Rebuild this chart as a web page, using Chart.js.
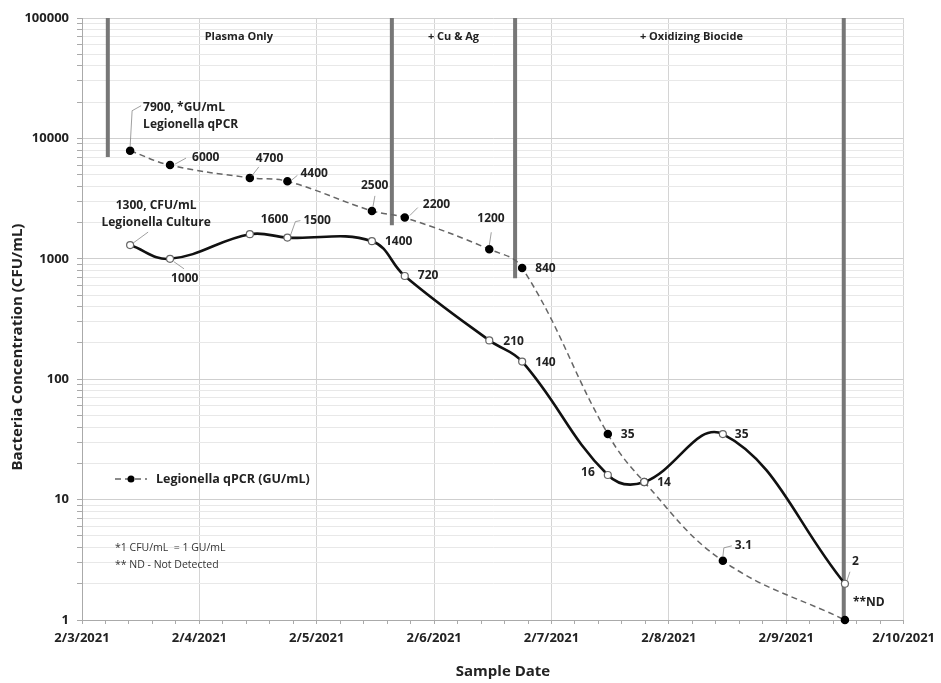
<!DOCTYPE html>
<html>
<head>
<meta charset="utf-8">
<script src="https://cdn.jsdelivr.net/npm/chart.js@4.4.0/dist/chart.umd.min.js"></script>
<style>
    html, body { margin: 0; padding: 0; background: #fff; }
    #wrap { width: 941px; height: 683px; }
</style>
</head>
<body>
<div id="wrap"><canvas id="chart" width="941" height="683"></canvas></div>
<script>
// Jours d'échantillonnage (en jours après le 2/3/2021)
const sampleDays = [0.41, 0.75, 1.43, 1.75, 2.47, 2.75, 3.47, 3.75, 4.48, 4.79, 5.46, 6.5];

// Legionella qPCR (GU/mL) - ND tracé à 1
const qpcrValues = [7900, 6000, 4700, 4400, 2500, 2200, 1200, 840, 35, 14, 3.1, 1];
const qpcrLabels = ['7900, *GU/mL|Legionella qPCR', '6000', '4700', '4400', '2500', '2200', '1200', '840', '35', '', '3.1', '**ND'];

// Legionella Culture (CFU/mL)
const cultureValues = [1300, 1000, 1600, 1500, 1400, 720, 210, 140, 16, 14, 35, 2];
const cultureLabels = ['1300, CFU/mL|Legionella Culture', '1000', '1600', '1500', '1400', '720', '210', '140', '16', '14', '35', '2'];

// Barres de changement de traitement
const phaseDays = [0.22, 2.64, 3.69, 6.49];
const phaseBottoms = [7000, 1900, 690, 1];
const phaseNames = ['Plasma Only', '+ Cu & Ag', '+ Oxidizing Biocide'];

// Axes
const xTickLabels = ['2/3/2021', '2/4/2021', '2/5/2021', '2/6/2021', '2/7/2021', '2/8/2021', '2/9/2021', '2/10/2021'];
const yMajorTicks = [1, 10, 100, 1000, 10000, 100000];

const FONT = '"Open Sans", "Liberation Sans", sans-serif';

// Position des étiquettes (pixels, relatif au point)
const qpcrLabelStyle = [
    { dx: 13, dy: -43, align: 'left', leader: [[0, -4], [2, -40], [11, -45]] },
    { dx: 22, dy: -8, align: 'left', leader: [[5, -1], [16, -7]] },
    { dx: 6, dy: -19, align: 'left', leader: [[2, -2], [9, -11]] },
    { dx: 13, dy: -8, align: 'left', leader: [[4, -1], [10, -6]] },
    { dx: -11, dy: -25, align: 'left', leader: [[1, -4], [3, -15]] },
    { dx: 18, dy: -13, align: 'left', leader: [[5, -2], [13, -10]] },
    { dx: -12, dy: -31, align: 'left', leader: [[0, -4], [2, -17]] },
    { dx: 13, dy: 1, align: 'left' },
    { dx: 13, dy: 0, align: 'left' },
    null,
    { dx: 12, dy: -15, align: 'left', leader: [[0, -4], [1, -13], [9, -15]] },
    { dx: 8, dy: -17, align: 'left' }
];
const cultureLabelStyle = [
    { dx: 26, dy: -40, align: 'center', leader: [[3, -2], [18, -13]] },
    { dx: 1, dy: 20, align: 'left', leader: [[4, 3], [14, 10]] },
    { dx: 11, dy: -15, align: 'left' },
    { dx: 16, dy: -17, align: 'left', leader: [[3, -2], [8, -16], [13, -17]] },
    { dx: 13, dy: 0, align: 'left' },
    { dx: 13, dy: 0, align: 'left' },
    { dx: 14, dy: 1, align: 'left' },
    { dx: 13, dy: 1, align: 'left' },
    { dx: -13, dy: -2, align: 'right' },
    { dx: 13, dy: 1, align: 'left' },
    { dx: 12, dy: 0, align: 'left' },
    { dx: 7, dy: -22, align: 'left', leader: [[2, -3], [5, -12]] }
];

function isDecade(v) {
    const l = Math.log10(v);
    return Math.abs(l - Math.round(l)) < 1e-9;
}

function isWholeDay(v) {
    return Math.abs(v - Math.round(v)) < 1e-6;
}

const points = (values) => sampleDays.map((d, i) => ({ x: d, y: values[i] }));

const datasets = [
    {
        label: 'Legionella Culture (CFU/mL)',
        data: points(cultureValues),
        borderColor: '#111',
        borderWidth: 2.6,
        tension: 0.4,
        pointRadius: 3.5,
        pointBackgroundColor: '#fff',
        pointBorderColor: '#666',
        pointBorderWidth: 1.2,
        clip: false
    },
    {
        label: 'Legionella qPCR (GU/mL)',
        data: points(qpcrValues),
        borderColor: '#666',
        borderWidth: 1.5,
        borderDash: [6, 4],
        tension: 0.4,
        pointRadius: 3.5,
        pointBackgroundColor: '#000',
        pointBorderColor: '#000',
        clip: false
    }
];

phaseDays.forEach((d, i) => {
    datasets.push({
        label: 'phase' + i,
        data: [{ x: d, y: 100000 }, { x: d, y: phaseBottoms[i] }],
        borderColor: '#777',
        borderWidth: 4,
        pointRadius: 0,
        clip: false
    });
});

// Plugin de dessin des étiquettes, titres et légende
const annotate = {
    id: 'annotate',
    afterDatasetsDraw(chart) {
        const ctx = chart.ctx;
        const xs = chart.scales.x;
        const ys = chart.scales.y;
        ctx.save();

        function drawLabels(values, labels, styles) {
            values.forEach((v, i) => {
                const st = styles[i];
                if (!st || !labels[i]) return;
                const px = xs.getPixelForValue(sampleDays[i]);
                const py = ys.getPixelForValue(v);
                if (st.leader) {
                    ctx.strokeStyle = '#888';
                    ctx.lineWidth = 0.8;
                    ctx.setLineDash([]);
                    ctx.beginPath();
                    st.leader.forEach((p, k) => {
                        if (k === 0) ctx.moveTo(px + p[0], py + p[1]);
                        else ctx.lineTo(px + p[0], py + p[1]);
                    });
                    ctx.stroke();
                }
                ctx.fillStyle = '#222';
                ctx.font = 'bold 12px ' + FONT;
                ctx.textAlign = st.align;
                ctx.textBaseline = 'middle';
                labels[i].split('|').forEach((line, k) => {
                    ctx.fillText(line, px + st.dx, py + st.dy + k * 17);
                });
            });
        }

        drawLabels(qpcrValues, qpcrLabels, qpcrLabelStyle);
        drawLabels(cultureValues, cultureLabels, cultureLabelStyle);

        // Noms des phases
        const phaseShift = [-11, 0, 12];
        ctx.fillStyle = '#222';
        ctx.font = 'bold 11px ' + FONT;
        ctx.textAlign = 'center';
        ctx.textBaseline = 'middle';
        phaseNames.forEach((name, i) => {
            const mid = (xs.getPixelForValue(phaseDays[i]) + xs.getPixelForValue(phaseDays[i + 1])) / 2;
            ctx.fillText(name, mid + phaseShift[i], chart.chartArea.top + 19);
        });

        // Légende
        const lx = 115, ly = 479;
        ctx.strokeStyle = '#666';
        ctx.lineWidth = 1.5;
        ctx.setLineDash([6, 4]);
        ctx.beginPath();
        ctx.moveTo(lx, ly);
        ctx.lineTo(lx + 32, ly);
        ctx.stroke();
        ctx.setLineDash([]);
        ctx.fillStyle = '#000';
        ctx.beginPath();
        ctx.arc(lx + 16, ly, 3.5, 0, Math.PI * 2);
        ctx.fill();
        ctx.fillStyle = '#222';
        ctx.font = 'bold 12.5px ' + FONT;
        ctx.textAlign = 'left';
        ctx.fillText('Legionella qPCR (GU/mL)', lx + 41, ly);

        // Notes
        ctx.fillStyle = '#333';
        ctx.font = '10.5px ' + FONT;
        ctx.fillText('*1 CFU/mL  = 1 GU/mL', 115, 548);
        ctx.fillText('** ND - Not Detected', 115, 565);

        // Titres des axes
        ctx.fillStyle = '#222';
        ctx.font = 'bold 15px ' + FONT;
        ctx.textAlign = 'center';
        ctx.fillText('Sample Date', 503, 672);
        ctx.translate(18, 347);
        ctx.rotate(-Math.PI / 2);
        ctx.fillText('Bacteria Concentration (CFU/mL)', 0, 0);

        ctx.restore();
    }
};

new Chart(document.getElementById('chart'), {
    type: 'line',
    data: { datasets: datasets },
    options: {
        responsive: false,
        animation: false,
        layout: { padding: { left: 0, right: 34, top: 18, bottom: 0 } },
        plugins: {
            legend: { display: false },
            tooltip: { enabled: false }
        },
        scales: {
            x: {
                type: 'linear',
                min: 0,
                max: 7,
                afterBuildTicks: (scale) => {
                    const ticks = [];
                    for (let k = 0; k <= 35; k++) ticks.push({ value: k / 5 });
                    scale.ticks = ticks;
                },
                afterFit: (scale) => { scale.height = 63; },
                ticks: {
                    autoSkip: false,
                    maxRotation: 0,
                    padding: 6,
                    color: '#222',
                    font: { family: FONT, size: 13, weight: 'bold' },
                    callback: (v) => isWholeDay(v) ? xTickLabels[Math.round(v)] : ''
                },
                grid: {
                    color: (c) => isWholeDay(c.tick.value) ? '#d4d4d4' : 'rgba(0,0,0,0)',
                    tickColor: '#aaa',
                    tickLength: 4
                },
                border: { color: '#aaa' }
            },
            y: {
                type: 'logarithmic',
                min: 1,
                max: 100000,
                afterBuildTicks: (scale) => {
                    const ticks = [];
                    yMajorTicks.forEach((d, i) => {
                        ticks.push({ value: d, major: true });
                        if (i < yMajorTicks.length - 1) {
                            for (let m = 2; m <= 9; m++) ticks.push({ value: d * m });
                        }
                    });
                    scale.ticks = ticks;
                },
                afterFit: (scale) => { scale.width = 82; },
                ticks: {
                    autoSkip: false,
                    padding: 8,
                    color: '#222',
                    font: { family: FONT, size: 13, weight: 'bold' },
                    callback: (v) => isDecade(v) ? String(v) : ''
                },
                grid: {
                    color: (c) => isDecade(c.tick.value) ? '#cfcfcf' : '#e8e8e8',
                    tickColor: '#aaa',
                    tickLength: 5
                },
                border: { color: '#aaa' }
            }
        }
    },
    plugins: [annotate]
});
</script>
</body>
</html>
